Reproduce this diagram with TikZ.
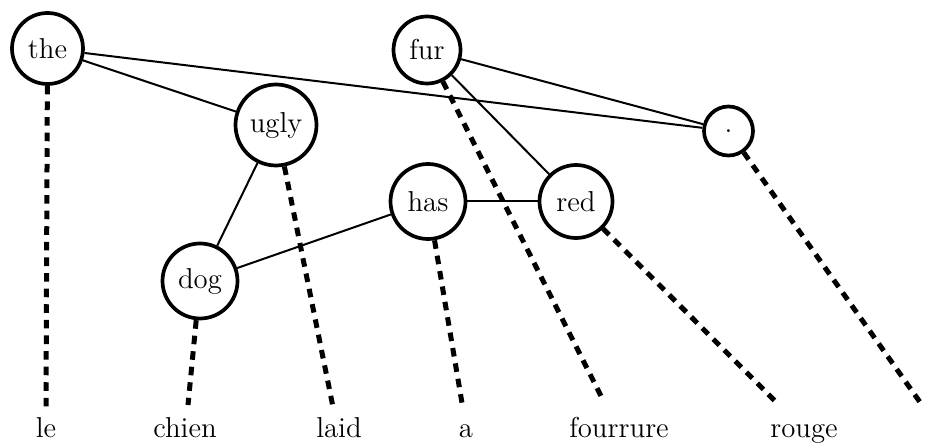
\documentclass[tikz,border=0pt]{standalone}
\begin{document}
\begin{tikzpicture}[x=0.5pt,y=-0.5pt,
  wnode/.style={circle,draw,line width=1.85pt,inner sep=0pt,font=\fontsize{14.4}{17}\selectfont},
  link/.style={line width=1pt},
  alignline/.style={line width=2.5pt,dash pattern=on 4.3pt off 3.5pt},
  word/.style={anchor=base,inner sep=0pt,font=\fontsize{14.4}{17}\selectfont}]
\useasboundingbox (0,0) rectangle (936,443);
% word nodes (tree)
\node[wnode,minimum size=35.5pt] (the)  at (47.5,48.5) {the};
\node[wnode,minimum size=33.5pt] (fur)  at (427,50) {fur};
\node[wnode,minimum size=40.5pt] (ugly) at (276,125) {ugly};
\node[wnode,minimum size=24.5pt] (dot)  at (728.5,131) {.};
\node[wnode,minimum size=37.5pt] (has)  at (428,201.5) {has};
\node[wnode,minimum size=36.5pt] (red)  at (576,201.5) {red};
\node[wnode,minimum size=37.5pt] (dog)  at (200,281) {dog};
% solid links
\draw[link] (the) -- (ugly);
\draw[link] (the) -- (dot);
\draw[link] (fur) -- (dot);
\draw[link] (fur) -- (red);
\draw[link] (ugly) -- (dog);
\draw[link] (dog) -- (has);
\draw[link] (has) -- (red);
% French words
\node[word] (le)  at (46,437) {le};
\node[word] (chien) at (185,437) {chien};
\node[word] (laid) at (339,437) {laid};
\node[word] (a) at (466,437) {a};
\node[word] (fourrure) at (619,437) {fourrure};
\node[word] (rouge) at (804,437) {rouge};
% ends of alignment lines
\coordinate (e1) at (46,408);
\coordinate (e2) at (188,405);
\coordinate (e3) at (333,407);
\coordinate (e4) at (462,403);
\coordinate (e5) at (604,402);
\coordinate (e6) at (777,403);
\coordinate (e7) at (922,405);
\draw[alignline] (the) -- (e1);
\draw[alignline] (dog) -- (e2);
\draw[alignline] (ugly) -- (e3);
\draw[alignline] (has) -- (e4);
\draw[alignline] (fur) -- (e5);
\draw[alignline] (red) -- (e6);
\draw[alignline] (dot) -- (e7);
\end{tikzpicture}
\end{document}
